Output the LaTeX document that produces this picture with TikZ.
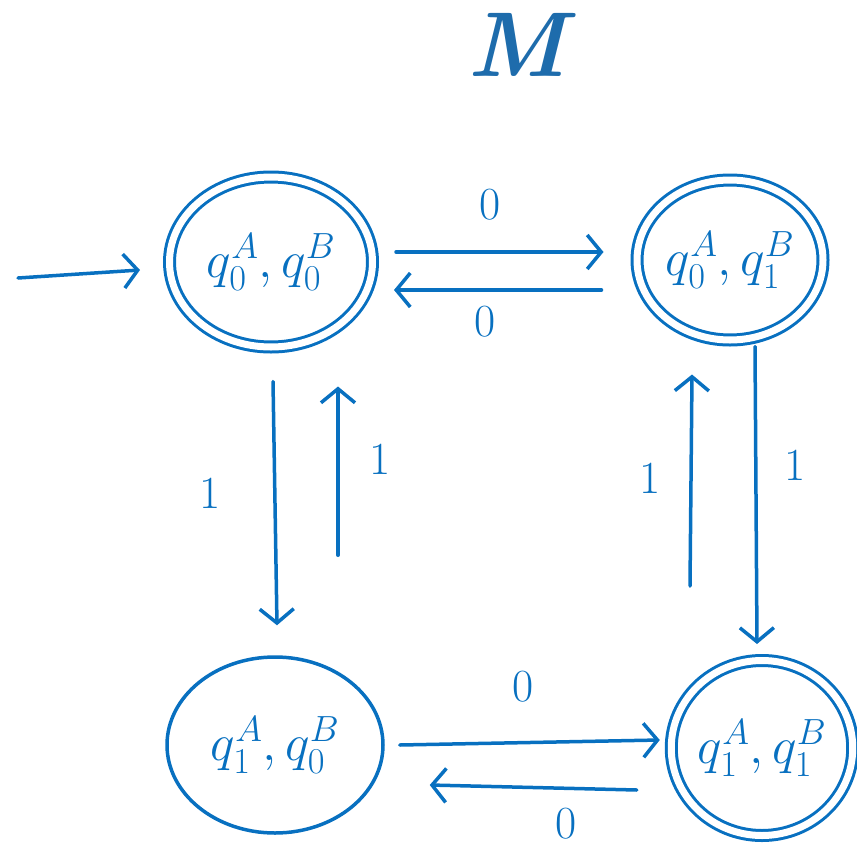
\documentclass[tikz,border=0pt]{standalone}
\usepackage{fix-cm}
\usetikzlibrary{shapes.geometric,arrows.meta}
\definecolor{ink}{RGB}{8,112,192}
\definecolor{titleblue}{RGB}{30,108,172}
\begin{document}
\begin{tikzpicture}[x=1pt,y=-1pt,
  state/.style={ellipse,draw=ink,line width=3.5pt,inner sep=0pt,text=ink,
    font=\fontsize{52}{56}\selectfont},
  accept/.style={state,double=white,double distance=7pt,line width=3pt},
  arr/.style={draw=ink,line width=3.5pt,line cap=round,
    -{Straight Barb[length=14pt,width=34pt,line width=3.5pt]}},
  lbl/.style={text=ink,font=\fontsize{46}{50}\selectfont,inner sep=0pt}]
\useasboundingbox (0,0) rectangle (857,849);
\node[text=titleblue,font=\fontsize{92}{96}\selectfont\bfseries\itshape] (title) at (517,45) {M};
\node[accept,minimum width=203pt,minimum height=170pt] (tl) at (271,262) {$q_0^A,q_0^B$};
\node[accept,minimum width=186pt,minimum height=160pt] (tr) at (730,260) {$q_0^A,q_1^B$};
\node[state,minimum width=216pt,minimum height=176pt] (bl) at (275,745) {$q_1^A,q_0^B$};
\node[accept,minimum width=178pt,minimum height=175pt] (br) at (762,748) {$q_1^A,q_1^B$};
\coordinate (start) at (18,278);
\draw[arr] (start) -- ([shift={(-28,8)}]tl.west);
\draw[arr] ([shift={(22,-10)}]tl.east) -- node[lbl,xshift=-10,yshift=47]{0} ([shift={(-32,-8)}]tr.west);
\draw[arr] ([shift={(-34,30)}]tr.west) -- node[lbl,xshift=-13,yshift=-32]{0} ([shift={(20,28)}]tl.east);
\draw[arr] ([shift={(2,33)}]tl.south) -- node[lbl,xshift=-65,yshift=10]{1} ([shift={(2,-30)}]bl.north);
\draw[arr] ([shift={(63,-100)}]bl.north) -- node[lbl,xshift=42,yshift=12]{1} ([shift={(67,38)}]tl.south);
\draw[arr] ([shift={(25,5)}]tr.south) -- node[lbl,xshift=39,yshift=30]{1} ([shift={(-5,-15)}]br.north);
\draw[arr] ([shift={(-72,-73)}]br.north) -- node[lbl,xshift=-41,yshift=2]{1} ([shift={(-38,33)}]tr.south);
\draw[arr] ([shift={(15,0)}]bl.east) -- node[lbl,xshift=-7,yshift=56]{0} ([shift={(-10,-8)}]br.west);
\draw[arr] ([shift={(-33,42)}]br.west) -- node[lbl,xshift=33,yshift=-36]{0} ([shift={(45,40)}]bl.east);
\end{tikzpicture}
\end{document}
